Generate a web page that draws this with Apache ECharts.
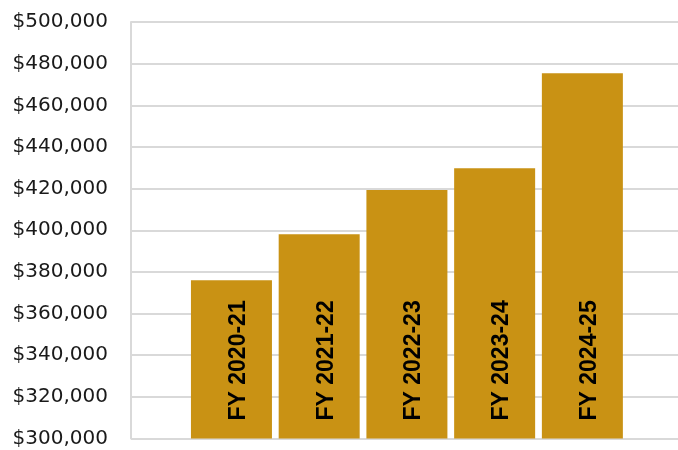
<!DOCTYPE html>
<html>
<head>
<meta charset="utf-8">
<script src="https://cdn.jsdelivr.net/npm/echarts@6/dist/echarts.min.js"></script>
<style>html,body{margin:0;padding:0;background:#fff}#c{width:678px;height:450px}</style>
</head>
<body>
<div id="c"></div>
<script>
const categories = ['FY 2020-21', 'FY 2021-22', 'FY 2022-23', 'FY 2023-24', 'FY 2024-25'];
const values = [376000, 398100, 419300, 429800, 475400];
const yMin = 300000, yMax = 500000, yStep = 20000;

const chart = echarts.init(document.getElementById('c'));
chart.setOption({
  animation: false,
  grid: { left: 131, right: 0, top: 22, bottom: 11.5, containLabel: false },
  xAxis: {
    type: 'value', min: -1.145, max: 5.09,
    show: false
  },
  yAxis: {
    type: 'value', min: yMin, max: yMax, interval: yStep,
    axisLine: { show: true, onZero: false, lineStyle: { color: '#d9d9d9', width: 2 } },
    axisTick: { show: false },
    splitLine: { show: true, lineStyle: { color: '#d9d9d9', width: 2 } },
    axisLabel: {
      margin: 23, color: '#1a1a1a', fontSize: 20, fontFamily: 'DejaVu Sans',
      formatter: v => '$' + v.toLocaleString('en-US')
    }
  },
  series: [{
    type: 'bar',
    barWidth: 81,
    itemStyle: { color: '#C99214' },
    data: values.map((v, i) => ({ value: [i, v], name: categories[i] })),
    label: {
      show: true, formatter: '{b}', position: 'insideBottom', distance: 18,
      rotate: 90, align: 'left', verticalAlign: 'middle', offset: [0, 7],
      color: '#000', fontWeight: 'bold', fontSize: 23, fontFamily: 'Liberation Sans'
    }
  }]
});
</script>
</body>
</html>
